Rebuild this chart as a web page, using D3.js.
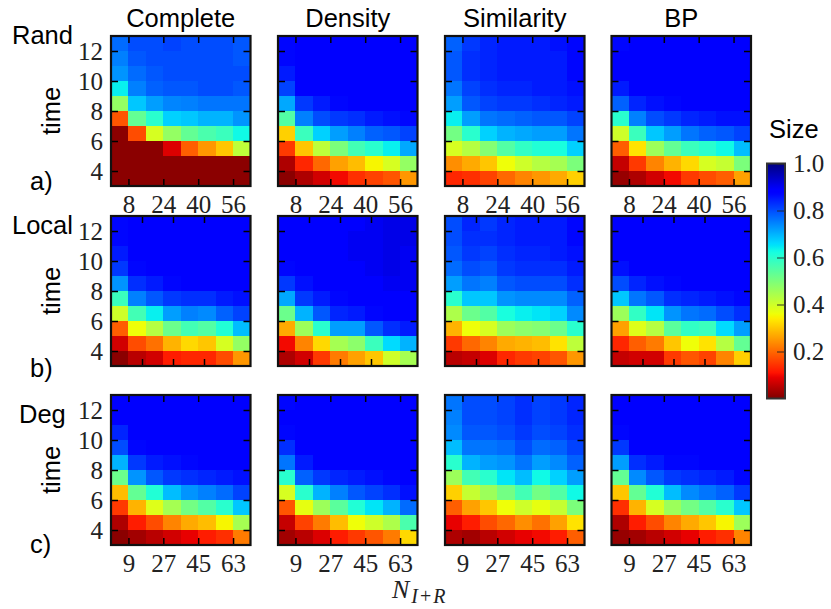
<!DOCTYPE html>
<html>
<head>
<meta charset="utf-8">
<script src="https://d3js.org/d3.v7.min.js"></script>
<style>
body { margin: 0; background: #fff; }
svg { display: block; }
.sans { font-family: "Liberation Sans", sans-serif; font-size: 25.5px; fill: #000; }
.tick text { font-family: "Liberation Serif", serif; font-size: 25px; fill: #222; }
</style>
</head>
<body>
<svg width="831" height="609"></svg>
<script>
// categories
var methods = ['Complete', 'Density', 'Similarity', 'BP'];
var networks = ['Rand', 'Local', 'Deg'];
var rowTags = ['a)', 'b)', 'c)'];

// ticks
var timeTicks = [4, 6, 8, 10, 12];
var randTicks = [8, 24, 40, 56];
var localTicks = [16, 32, 48];
var degTicks = [9, 27, 45, 63];
var barTicks = [0.2, 0.4, 0.6, 0.8, 1.0];

// values, top row of each heatmap first (time 12-13 down to 3-4)
var randComplete = [
  [.77,.80,.80,.81,.80,.80,.80,.79],
  [.75,.79,.80,.80,.80,.80,.80,.79],
  [.73,.77,.79,.80,.80,.80,.80,.80],
  [.64,.75,.78,.79,.79,.80,.80,.79],
  [.47,.68,.72,.745,.75,.76,.76,.76],
  [.18,.53,.60,.67,.68,.70,.70,.73],
  [.01,.17,.39,.47,.53,.56,.58,.63],
  [.01,.01,.01,.08,.19,.25,.30,.42],
  [.01,.01,.01,.01,.01,.01,.01,.01],
  [.01,.01,.01,.01,.01,.01,.01,.01]
];
var randDensity = [
  [.87,.88,.88,.88,.88,.88,.88,.88],
  [.87,.88,.88,.88,.88,.88,.88,.88],
  [.85,.88,.88,.88,.88,.88,.88,.88],
  [.81,.88,.88,.88,.88,.88,.88,.88],
  [.71,.82,.85,.87,.88,.88,.88,.88],
  [.55,.75,.80,.82,.83,.85,.86,.87],
  [.31,.58,.67,.72,.75,.78,.79,.81],
  [.15,.30,.42,.50,.57,.60,.64,.71],
  [.04,.13,.20,.26,.29,.35,.39,.47],
  [.01,.04,.07,.10,.14,.16,.18,.25]
];
var randSimilarity = [
  [.78,.82,.84,.85,.85,.85,.86,.87],
  [.79,.83,.84,.85,.85,.85,.85,.87],
  [.79,.83,.84,.85,.85,.85,.85,.87],
  [.76,.81,.83,.84,.84,.85,.85,.86],
  [.72,.79,.81,.82,.82,.83,.84,.85],
  [.64,.72,.76,.77,.78,.79,.79,.81],
  [.51,.60,.67,.70,.71,.72,.72,.76],
  [.39,.43,.49,.55,.59,.61,.62,.67],
  [.24,.27,.30,.36,.40,.43,.45,.50],
  [.13,.14,.16,.20,.23,.25,.27,.31]
];
var randBP = [
  [.87,.88,.88,.88,.88,.88,.88,.88],
  [.88,.88,.88,.88,.88,.88,.88,.88],
  [.88,.88,.88,.88,.88,.88,.88,.88],
  [.85,.88,.88,.88,.88,.88,.88,.88],
  [.78,.84,.86,.87,.88,.88,.88,.88],
  [.60,.75,.80,.82,.84,.85,.86,.86],
  [.40,.58,.68,.72,.76,.78,.79,.81],
  [.19,.33,.46,.53,.58,.60,.63,.69],
  [.06,.15,.23,.28,.32,.39,.41,.50],
  [.02,.04,.07,.10,.15,.17,.19,.26]
];
var localComplete = [
  [.87,.88,.88,.88,.88,.88,.88,.88],
  [.87,.88,.88,.88,.88,.88,.88,.88],
  [.85,.88,.88,.88,.88,.88,.88,.88],
  [.82,.87,.88,.88,.88,.88,.88,.88],
  [.73,.83,.85,.87,.88,.88,.88,.88],
  [.58,.75,.79,.82,.83,.83,.85,.86],
  [.40,.57,.64,.72,.75,.74,.78,.81],
  [.19,.36,.43,.52,.57,.55,.61,.69],
  [.07,.17,.21,.28,.32,.30,.39,.47],
  [.01,.05,.07,.12,.13,.13,.17,.25]
];
var localDensity = [
  [.88,.88,.89,.89,.89,.90,.91,.91],
  [.88,.88,.89,.89,.90,.90,.91,.91],
  [.88,.88,.89,.89,.90,.90,.91,.90],
  [.87,.88,.88,.89,.89,.90,.91,.90],
  [.82,.86,.88,.88,.89,.89,.90,.90],
  [.71,.82,.85,.87,.88,.89,.89,.89],
  [.52,.70,.79,.84,.85,.87,.88,.88],
  [.27,.46,.60,.72,.72,.79,.83,.85],
  [.10,.23,.32,.45,.48,.58,.66,.70],
  [.04,.07,.15,.22,.26,.30,.40,.45]
];
var localSimilarity = [
  [.80,.84,.82,.84,.85,.85,.85,.87],
  [.80,.83,.83,.84,.85,.85,.85,.87],
  [.79,.82,.81,.83,.84,.84,.85,.86],
  [.77,.80,.79,.82,.83,.83,.83,.85],
  [.72,.76,.75,.79,.80,.80,.80,.83],
  [.60,.68,.68,.73,.74,.74,.74,.78],
  [.44,.52,.55,.62,.64,.65,.67,.74],
  [.28,.36,.39,.46,.48,.49,.52,.60],
  [.15,.20,.23,.27,.28,.29,.33,.42],
  [.05,.06,.08,.13,.15,.16,.18,.25]
];
var localBP = [
  [.88,.88,.88,.88,.88,.88,.88,.88],
  [.88,.88,.88,.88,.88,.88,.88,.88],
  [.88,.88,.88,.88,.88,.88,.88,.88],
  [.86,.88,.88,.88,.88,.88,.88,.88],
  [.80,.84,.86,.87,.88,.88,.88,.88],
  [.68,.76,.79,.83,.84,.85,.86,.87],
  [.46,.59,.65,.73,.76,.77,.80,.83],
  [.26,.38,.43,.54,.59,.58,.66,.72],
  [.13,.19,.22,.30,.36,.33,.43,.53],
  [.06,.07,.07,.15,.18,.16,.23,.31]
];
var degComplete = [
  [.88,.88,.88,.88,.88,.88,.88,.88],
  [.88,.88,.88,.88,.88,.88,.88,.88],
  [.84,.88,.88,.88,.88,.88,.88,.88],
  [.80,.87,.88,.88,.88,.88,.88,.88],
  [.70,.82,.85,.86,.87,.88,.88,.88],
  [.52,.73,.79,.82,.83,.84,.85,.86],
  [.29,.53,.61,.69,.73,.75,.77,.81],
  [.15,.28,.38,.45,.51,.55,.60,.68],
  [.04,.12,.17,.23,.27,.29,.35,.45],
  [.01,.03,.05,.07,.09,.12,.14,.22]
];
var degDensity = [
  [.87,.88,.88,.88,.88,.88,.88,.88],
  [.88,.88,.88,.88,.88,.88,.88,.88],
  [.87,.88,.88,.88,.88,.88,.88,.88],
  [.83,.88,.88,.88,.88,.88,.88,.88],
  [.76,.85,.88,.88,.88,.88,.88,.88],
  [.60,.78,.82,.84,.85,.86,.87,.88],
  [.39,.60,.70,.75,.79,.81,.83,.86],
  [.18,.37,.46,.54,.61,.65,.70,.77],
  [.06,.16,.22,.29,.36,.40,.44,.56],
  [.03,.05,.08,.12,.15,.18,.22,.32]
];
var degSimilarity = [
  [.76,.80,.80,.81,.83,.81,.82,.84],
  [.75,.80,.80,.81,.83,.81,.82,.84],
  [.74,.79,.79,.80,.82,.80,.81,.83],
  [.69,.76,.76,.77,.80,.77,.78,.81],
  [.60,.70,.72,.73,.76,.72,.74,.78],
  [.46,.57,.60,.65,.69,.63,.67,.72],
  [.31,.41,.46,.51,.57,.51,.55,.63],
  [.19,.26,.30,.36,.40,.37,.41,.50],
  [.09,.12,.17,.20,.24,.21,.26,.33],
  [.04,.03,.05,.07,.09,.10,.12,.19]
];
var degBP = [
  [.88,.88,.88,.88,.88,.88,.88,.88],
  [.88,.88,.88,.88,.88,.88,.88,.88],
  [.87,.88,.88,.88,.88,.88,.88,.88],
  [.82,.88,.88,.88,.88,.88,.88,.88],
  [.72,.83,.85,.87,.87,.88,.88,.88],
  [.53,.74,.79,.82,.83,.84,.85,.87],
  [.30,.53,.61,.69,.74,.76,.78,.82],
  [.14,.28,.39,.46,.51,.55,.60,.68],
  [.04,.12,.17,.23,.27,.30,.35,.46],
  [.02,.03,.05,.07,.09,.12,.14,.23]
];

var grids = [
  [randComplete, randDensity, randSimilarity, randBP],
  [localComplete, localDensity, localSimilarity, localBP],
  [degComplete, degDensity, degSimilarity, degBP]
];

// 0. Layout
var svg = d3.select('svg');
var colLeft = [111, 278, 445, 611.5];
var rowTop = [36, 216, 395];
var panelW = 139.5;
var panelH = 150;
var tickLen = 7;

// 1. jet colormap, reversed so that 0 is dark red and 1 is dark blue
var jetR = d3.scaleLinear().domain([0, .35, .66, .89, 1]).range([0, 0, 1, 1, .5]);
var jetG = d3.scaleLinear().domain([0, .125, .375, .64, .91, 1]).range([0, 0, 1, 1, 0, 0]);
var jetB = d3.scaleLinear().domain([0, .11, .34, .65, 1]).range([.5, 1, 1, 0, 0]);
function sizeColor(v) {
  var t = 1 - v;
  return d3.rgb(jetR(t) * 255, jetG(t) * 255, jetB(t) * 255).formatHex();
}

// 2. Column settings per row: x domain, one cell's width in x units, ticks
var xSetup = [
  { max: 64, cell: 8, ticks: randTicks, labels: true },
  { max: 72, cell: 9, ticks: localTicks, labels: false },
  { max: 72, cell: 9, ticks: degTicks, labels: true }
];

function drawPanel(row, col) {
  var setup = xSetup[row];
  var x = d3.scaleLinear().domain([0, setup.max]).range([0, panelW]);
  var y = d3.scaleLinear().domain([3, 13]).range([panelH, 0]);

  var g = svg.append('g')
    .attr('transform', 'translate(' + colLeft[col] + ',' + rowTop[row] + ')');

  // 2.1 cells
  g.selectAll('.row')
    .data(grids[row][col])
    .enter()
    .append('g')
    .attr('class', 'row')
    .each(function(values, r) {
      d3.select(this).selectAll('rect')
        .data(values)
        .enter()
        .append('rect')
        .attr('x', (d, i) => x(i * setup.cell))
        .attr('y', y(13 - r))
        .attr('width', x(setup.cell) - x(0))
        .attr('height', y(12) - y(13))
        .attr('shape-rendering', 'crispEdges')
        .style('fill', d => sizeColor(d));
    });

  // 2.2 ticks on all four sides, pointing inwards
  var bottom = d3.axisBottom(x).tickValues(setup.ticks).tickSize(-tickLen).tickPadding(9);
  if (!setup.labels) bottom.tickFormat('');
  var top = d3.axisTop(x).tickValues(setup.ticks).tickSize(-tickLen).tickFormat('');
  var left = d3.axisLeft(y).tickValues(timeTicks).tickSize(-tickLen).tickPadding(8);
  if (col > 0) left.tickFormat('');
  var right = d3.axisRight(y).tickValues(timeTicks).tickSize(-tickLen).tickFormat('');

  [
    [bottom, 0, panelH], [top, 0, 0], [left, 0, 0], [right, panelW, 0]
  ].forEach(function(a) {
    var ax = g.append('g')
      .attr('transform', 'translate(' + a[1] + ',' + a[2] + ')')
      .call(a[0]);
    ax.select('.domain').remove();
    ax.selectAll('line').attr('stroke', '#000').attr('stroke-width', 1.5);
  });

  // 2.3 frame
  g.append('rect')
    .attr('width', panelW)
    .attr('height', panelH)
    .attr('fill', 'none')
    .attr('stroke', '#111')
    .attr('stroke-width', 2.2);
}

networks.forEach(function(n, row) {
  methods.forEach(function(m, col) {
    drawPanel(row, col);
  });
});

// 3. Text labels
var titleX = colLeft.map(d => d + panelW / 2);
svg.selectAll('.title')
  .data(methods)
  .enter()
  .append('text')
  .attr('class', 'sans title')
  .attr('x', (d, i) => titleX[i])
  .attr('y', 27)
  .attr('text-anchor', 'middle')
  .text(d => d);

var netX = [12, 12, 19];
var netY = [44, 234, 423];
svg.selectAll('.net')
  .data(networks)
  .enter()
  .append('text')
  .attr('class', 'sans net')
  .attr('x', (d, i) => netX[i])
  .attr('y', (d, i) => netY[i])
  .text(d => d);

var tagY = [190, 377, 553];
svg.selectAll('.tag')
  .data(rowTags)
  .enter()
  .append('text')
  .attr('class', 'sans tag')
  .attr('x', 30)
  .attr('y', (d, i) => tagY[i])
  .text(d => d);

svg.selectAll('.time')
  .data(rowTop)
  .enter()
  .append('text')
  .attr('class', 'sans time')
  .attr('transform', d => 'translate(60,' + (d + 75) + ') rotate(-90)')
  .attr('text-anchor', 'middle')
  .text('time');

var xLabel = svg.append('text')
  .attr('x', 392)
  .attr('y', 598)
  .style('font-family', '"Liberation Serif", serif')
  .style('font-size', '26px')
  .style('font-style', 'italic')
  .style('fill', '#222');
xLabel.append('tspan').text('N');
xLabel.append('tspan').attr('dy', 5).attr('dx', 2).style('font-size', '20px').text('I');
xLabel.append('tspan').attr('dx', 2).style('font-size', '20px').style('font-style', 'normal').text('+');
xLabel.append('tspan').attr('dx', 2).style('font-size', '20px').text('R');

// 4. Colorbar
var barX = 767, barY = 163.5, barW = 18, barH = 235;
var barScale = d3.scaleLinear().domain([0, 1]).range([barH, 0]);

var grad = svg.append('defs').append('linearGradient')
  .attr('id', 'jetbar')
  .attr('x1', 0).attr('x2', 0).attr('y1', 1).attr('y2', 0);
grad.selectAll('stop')
  .data(d3.range(0, 101))
  .enter()
  .append('stop')
  .attr('offset', d => d + '%')
  .attr('stop-color', d => sizeColor(d / 100));

var bar = svg.append('g').attr('transform', 'translate(' + barX + ',' + barY + ')');
bar.append('rect')
  .attr('width', barW)
  .attr('height', barH)
  .attr('fill', 'url(#jetbar)');

var barAxis = bar.append('g')
  .attr('transform', 'translate(' + barW + ',0)')
  .call(d3.axisRight(barScale).tickValues(barTicks).tickSize(-8).tickPadding(8).tickFormat(d3.format('.1f')));
barAxis.select('.domain').remove();
barAxis.selectAll('line').attr('stroke', '#222').attr('stroke-opacity', 0.75).attr('stroke-width', 1.2);

bar.append('rect')
  .attr('width', barW)
  .attr('height', barH)
  .attr('fill', 'none')
  .attr('stroke', '#333')
  .attr('stroke-width', 2);

svg.append('text')
  .attr('class', 'sans')
  .attr('x', 769)
  .attr('y', 138)
  .text('Size');
</script>
</body>
</html>
